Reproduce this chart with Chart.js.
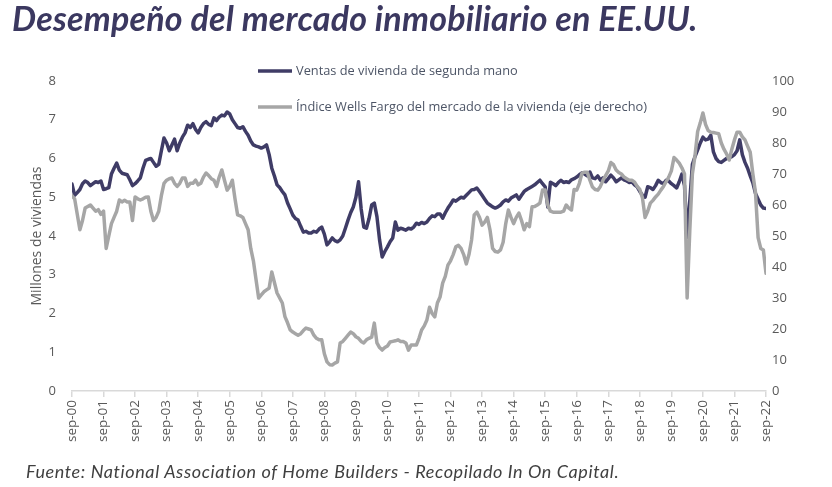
<!DOCTYPE html>
<html>
<head>
<meta charset="utf-8">
<script src="https://cdn.jsdelivr.net/npm/chart.js@4.4.1/dist/chart.umd.min.js"></script>
<style>
  body { margin: 0; background: #fff; }
  #wrap { position: relative; width: 832px; height: 487px; overflow: hidden; }
  #titulo { position: absolute; left: 12px; top: -3px; font: italic bold 34px Lato, sans-serif; letter-spacing: 0.2px; color: #3b3860; white-space: nowrap; }
  #fuente { position: absolute; left: 26px; top: 460px; font: italic 18px Lato, sans-serif; letter-spacing: 0.6px; color: #404040; white-space: nowrap; }
  canvas { position: absolute; left: 0; top: 0; }
</style>
</head>
<body>
<div id="wrap">
  <canvas id="grafico" width="832" height="487"></canvas>
  <div id="titulo">Desempeño del mercado inmobiliario en EE.UU.</div>
  <div id="fuente">Fuente: National Association of Home Builders - Recopilado In On Capital.</div>
</div>
<script>
// etiquetas del eje x: una por año (cada 12 meses desde sep-00)
const etiquetasAnio = ['sep-00','sep-01','sep-02','sep-03','sep-04','sep-05','sep-06','sep-07',
  'sep-08','sep-09','sep-10','sep-11','sep-12','sep-13','sep-14','sep-15','sep-16','sep-17',
  'sep-18','sep-19','sep-20','sep-21','sep-22'];

// ventas de vivienda de segunda mano (millones), mensual desde sep-00
const ventas = [
  5.34, 5.05, 5.12, 5.20, 5.35, 5.42, 5.38, 5.30, 5.35, 5.40, 5.38, 5.42,
  5.20, 5.22, 5.25, 5.60, 5.75, 5.88, 5.70, 5.62, 5.60, 5.58, 5.45, 5.30,
  5.35, 5.42, 5.50, 5.75, 5.95, 5.98, 6.00, 5.90, 5.80, 5.85, 6.20, 6.53,
  6.40, 6.20, 6.35, 6.50, 6.20, 6.40, 6.55, 6.66, 6.86, 6.80, 6.90, 6.75,
  6.66, 6.80, 6.90, 6.95, 6.88, 6.85, 7.05, 6.98, 7.07, 7.12, 7.10, 7.20,
  7.15, 7.00, 6.90, 6.80, 6.78, 6.82, 6.70, 6.60, 6.45, 6.35, 6.32, 6.30,
  6.27, 6.30, 6.35, 6.10, 5.75, 5.55, 5.32, 5.25, 5.15, 5.06, 4.85, 4.70,
  4.54, 4.45, 4.41, 4.25, 4.10, 4.12, 4.08, 4.08, 4.12, 4.10, 4.18, 4.23,
  4.05, 3.77, 3.85, 3.95, 3.88, 3.85, 3.90, 4.00, 4.20, 4.41, 4.60, 4.75,
  5.00, 5.40, 4.70, 4.23, 4.20, 4.45, 4.80, 4.85, 4.50, 3.90, 3.46, 3.60,
  3.72, 3.85, 3.95, 4.36, 4.15, 4.20, 4.18, 4.15, 4.20, 4.18, 4.23, 4.33,
  4.30, 4.35, 4.32, 4.36, 4.45, 4.52, 4.50, 4.57, 4.57, 4.46, 4.60, 4.72,
  4.82, 4.93, 4.90, 4.95, 5.00, 4.98, 5.05, 5.12, 5.19, 5.20, 5.24, 5.15,
  5.05, 4.95, 4.85, 4.80, 4.75, 4.72, 4.75, 4.80, 4.88, 4.93, 4.90, 4.98,
  5.02, 5.06, 4.95, 5.05, 5.15, 5.20, 5.24, 5.28, 5.32, 5.38, 5.44, 5.35,
  5.27, 4.75, 5.39, 5.35, 5.30, 5.38, 5.44, 5.38, 5.40, 5.38, 5.45, 5.48,
  5.52, 5.58, 5.63, 5.60, 5.55, 5.65, 5.50, 5.48, 5.55, 5.44, 5.50, 5.40,
  5.48, 5.57, 5.50, 5.40, 5.45, 5.50, 5.45, 5.42, 5.38, 5.40, 5.32, 5.27,
  5.15, 5.05, 5.00, 5.27, 5.25, 5.20, 5.30, 5.44, 5.38, 5.35, 5.44, 5.42,
  5.35, 5.30, 5.24, 5.40, 5.60, 5.30, 3.97, 4.90, 5.85, 6.05, 6.22, 6.40,
  6.55, 6.48, 6.50, 6.60, 6.17, 6.00, 5.92, 5.90, 5.95, 6.00, 6.02, 6.05,
  6.10, 6.20, 6.48, 6.10, 5.90, 5.75, 5.55, 5.37, 5.10, 4.95, 4.80, 4.72,
  4.71
];

// índice Wells Fargo del mercado de la vivienda (eje derecho), mensual desde sep-00
const indiceWF = [
  63, 62, 57, 52, 55, 59, 59.5, 60, 59, 58, 58.5, 57,
  58, 46, 50, 54, 56, 58, 61.6, 61, 61.5, 61, 61, 55,
  62.6, 62, 61.6, 62, 62.5, 62.6, 58, 55, 56, 58, 63, 67,
  68, 68.5, 68.7, 67, 66, 67, 68.7, 68.7, 66, 67, 67, 68,
  66.5, 67, 69, 70.3, 69.5, 68.5, 68, 66, 69, 71.3, 68, 64.8,
  66, 68, 62, 56.8, 56.5, 56, 54, 52, 46, 42, 36, 30,
  31, 32, 32.6, 33.2, 38.4, 35, 31.6, 30, 28.4, 24, 22, 19.7,
  19, 18.5, 18, 18.5, 19.5, 20.3, 20, 19.7, 18, 17, 16.5, 16.5,
  12, 9.4, 8.5, 8.4, 9, 9.4, 15.5, 16, 17, 18, 19, 18.5,
  17.5, 17, 16, 15.5, 16.5, 17, 17.4, 21.9, 15.5, 14, 13.2, 14,
  14.5, 15.8, 16, 16.2, 16.5, 16, 16, 15.5, 13.2, 14.8, 14.8, 14.8,
  17, 19.7, 21, 22.9, 27, 25, 23.9, 28.4, 30.3, 34.8, 37, 40.6,
  42, 44, 46.5, 47, 46, 44, 41, 44, 48.7, 56.8, 57.7, 56,
  53.5, 54.5, 56, 52, 46, 45, 44.8, 45.5, 48, 54, 58.4, 56,
  54, 56, 57.4, 55, 52, 54, 53, 59.4, 59.5, 60, 60.6, 64.8,
  64.8, 60, 58, 57.7, 57.7, 57.7, 57.7, 58, 60, 59, 58.4, 65,
  64.8, 67, 70.3, 70.6, 70.6, 68, 65.8, 65, 64.8, 66, 68, 69.5,
  71, 73.7, 73, 71.3, 70.5, 70, 69, 68.5, 68, 68, 67.4, 66,
  65, 62.3, 56, 58, 60.6, 61.5, 62.6, 63.5, 64.8, 66, 67.5, 69,
  71, 75.3, 74.5, 73.5, 72, 70, 30, 51.5, 70, 76, 83.7, 86.5,
  89.7, 86, 84, 83.5, 83.4, 83.2, 83, 80, 78, 76.5, 74.5, 78,
  81, 83.5, 83.5, 82, 81, 79, 77, 70, 64, 49.5, 46, 45.5,
  38
];

const colorVentas = '#3f3c66';
const colorIndice = '#a6a6a6';
const colorTexto = '#595959';

// leyenda apilada dentro del área de trazado
const leyendaPlugin = {
  id: 'leyendaApilada',
  afterDraw(chart) {
    const ctx = chart.ctx;
    const filas = [{ ds: 0, y: 71 }, { ds: 1, y: 107 }];
    ctx.save();
    ctx.font = '12.8px "Open Sans", sans-serif';
    ctx.textBaseline = 'middle';
    filas.forEach(f => {
      const ds = chart.data.datasets[f.ds];
      ctx.strokeStyle = ds.borderColor;
      ctx.lineWidth = 3.5;
      ctx.beginPath();
      ctx.moveTo(258, f.y);
      ctx.lineTo(292, f.y);
      ctx.stroke();
      ctx.fillStyle = '#4d5566';
      ctx.fillText(ds.label, 296, f.y);
    });
    ctx.restore();
  }
};

new Chart(document.getElementById('grafico').getContext('2d'), {
  type: 'line',
  data: {
    datasets: [
      {
        label: 'Ventas de vivienda de segunda mano',
        data: ventas.map((v, i) => ({ x: i, y: v })),
        borderColor: colorVentas,
        borderWidth: 3.5,
        yAxisID: 'y',
        order: 1
      },
      {
        label: 'Índice Wells Fargo del mercado de la vivienda (eje derecho)',
        data: indiceWF.map((v, i) => ({ x: i, y: v })),
        borderColor: colorIndice,
        borderWidth: 3.5,
        yAxisID: 'y2',
        order: 0
      }
    ]
  },
  options: {
    responsive: false,
    animation: false,
    layout: { padding: { top: 81, bottom: 36, left: 0, right: 0 } },
    elements: { point: { radius: 0 }, line: { tension: 0, borderJoinStyle: 'round', borderCapStyle: 'round' } },
    plugins: { legend: { display: false }, tooltip: { enabled: false } },
    scales: {
      x: {
        type: 'linear',
        min: 0,
        max: 264,
        ticks: {
          stepSize: 12,
          autoSkip: false,
          maxRotation: 90,
          minRotation: 90,
          padding: 3,
          color: colorTexto,
          font: { family: '"Open Sans", sans-serif', size: 13.5 },
          callback: v => etiquetasAnio[v / 12]
        },
        grid: { drawOnChartArea: false, drawTicks: true, tickLength: 6, color: '#d9d9d9', lineWidth: 1.5 },
        border: { display: true, color: '#d9d9d9', width: 1.5 },
        afterFit: s => { s.height = 60; }
      },
      y: {
        position: 'left',
        min: 0,
        max: 8,
        ticks: { stepSize: 1, padding: 16, color: colorTexto, font: { family: '"Open Sans", sans-serif', size: 13 } },
        grid: { display: false, drawTicks: false },
        border: { display: false },
        title: {
          display: true,
          text: 'Millones de viviendas',
          color: colorTexto,
          font: { family: '"Open Sans", sans-serif', size: 14 },
          padding: { top: 29, bottom: 0 }
        },
        afterFit: s => { s.width = 72; }
      },
      y2: {
        position: 'right',
        min: 0,
        max: 100,
        ticks: { stepSize: 10, padding: 6, color: colorTexto, font: { family: '"Open Sans", sans-serif', size: 13 } },
        grid: { display: false, drawTicks: false },
        border: { display: false },
        afterFit: s => { s.width = 66; }
      }
    }
  },
  plugins: [leyendaPlugin]
});
</script>
</body>
</html>
